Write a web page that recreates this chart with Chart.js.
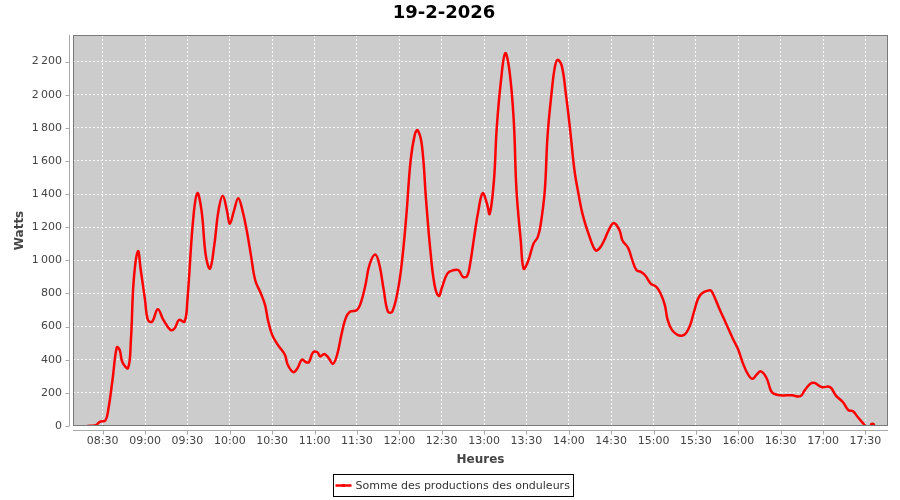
<!DOCTYPE html>
<html>
<head>
<meta charset="utf-8">
<script src="https://cdn.jsdelivr.net/npm/chart.js@4.4.1/dist/chart.umd.min.js"></script>
<style>
    html, body { margin: 0; padding: 0; background: #ffffff; }
    #wrap { width: 900px; height: 500px; }
</style>
</head>
<body>
<div id="wrap"><canvas id="production" width="900" height="500"></canvas></div>
<script>
// Data
const chartTitle = '19-2-2026';
const seriesName = 'Somme des productions des onduleurs';
const xAxisTitle = 'Heures';
const yAxisTitle = 'Watts';

const times = [
    '08:19', '08:25', '08:28', '08:32', '08:34', '08:37', '08:40', '08:42', '08:44', '08:48',
    '08:50', '08:52', '08:55', '08:57', '09:00', '09:02', '09:05', '09:09', '09:13', '09:18',
    '09:21', '09:24', '09:28', '09:30', '09:34', '09:37', '09:40', '09:43', '09:46', '09:49',
    '09:52', '09:55', '09:58', '10:00', '10:03', '10:06', '10:09', '10:12', '10:15', '10:18',
    '10:22', '10:25', '10:27', '10:30', '10:34', '10:39', '10:41', '10:45', '10:48', '10:51',
    '10:54', '10:56', '10:59', '11:02', '11:04', '11:07', '11:10', '11:13', '11:16', '11:19',
    '11:22', '11:25', '11:30', '11:33', '11:36', '11:39', '11:43', '11:46', '11:49', '11:52',
    '11:55', '11:59', '12:02', '12:05', '12:08', '12:11', '12:13', '12:16', '12:19', '12:22',
    '12:25', '12:28', '12:30', '12:34', '12:38', '12:42', '12:45', '12:48', '12:50', '12:53',
    '12:56', '12:59', '13:02', '13:04', '13:07', '13:09', '13:12', '13:15', '13:18', '13:21',
    '13:23', '13:26', '13:28', '13:31', '13:35', '13:38', '13:40', '13:43', '13:45', '13:48',
    '13:50', '13:52', '13:55', '13:58', '14:01', '14:04', '14:07', '14:10', '14:15', '14:19',
    '14:22', '14:25', '14:29', '14:32', '14:36', '14:38', '14:42', '14:45', '14:48', '14:51',
    '14:54', '14:58', '15:02', '15:05', '15:08', '15:10', '15:13', '15:17', '15:20', '15:23',
    '15:26', '15:29', '15:33', '15:40', '15:42', '15:47', '15:51', '15:56', '16:00', '16:03',
    '16:07', '16:10', '16:13', '16:16', '16:20', '16:23', '16:25', '16:30', '16:34', '16:38',
    '16:44', '16:47', '16:51', '16:54', '16:59', '17:05', '17:09', '17:14', '17:18', '17:21',
    '17:25', '17:30', '17:32', '17:35'
];

const watts = [
    0, 5, 25, 35, 100, 280, 475, 460, 385, 350,
    520, 880, 1055, 940, 760, 640, 630, 705, 640, 580,
    590, 640, 630, 760, 1240, 1405, 1300, 1030, 950, 1090,
    1300, 1390, 1300, 1220, 1300, 1375, 1300, 1180, 1030, 880,
    800, 730, 640, 550, 490, 430, 370, 325, 350, 400,
    385, 385, 445, 445, 420, 435, 410, 375, 430, 550,
    650, 690, 700, 750, 850, 975, 1035, 970, 820, 690,
    690, 820, 1000, 1270, 1600, 1760, 1785, 1695, 1360, 1060,
    850, 785, 830, 920, 940, 940, 900, 905, 970, 1140,
    1300, 1405, 1345, 1280, 1480, 1800, 2085, 2250, 2145, 1850,
    1420, 1120, 950, 990, 1100, 1140, 1210, 1420, 1755, 2025,
    2160, 2210, 2175, 2000, 1785, 1545, 1395, 1270, 1135, 1060,
    1075, 1120, 1195, 1225, 1180, 1120, 1075, 1000, 940, 930,
    910, 860, 840, 800, 730, 640, 580, 550, 545, 560,
    610, 700, 790, 820, 800, 700, 625, 530, 460, 385,
    310, 285, 310, 330, 290, 215, 195, 185, 185, 185,
    180, 215, 255, 260, 235, 235, 185, 145, 95, 90,
    50, 0, null, 5
];

const xTickLabels = [
    '08:30', '09:00', '09:30', '10:00', '10:30', '11:00', '11:30', '12:00', '12:30', '13:00',
    '13:30', '14:00', '14:30', '15:00', '15:30', '16:00', '16:30', '17:00', '17:30'
];
const yTickValues = [0, 200, 400, 600, 800, 1000, 1200, 1400, 1600, 1800, 2000, 2200];

const xRange = ['08:09', '17:46'];
const yRange = [0, 2360];

function toMinutes(t) {
    const parts = t.split(':');
    return parseInt(parts[0], 10) * 60 + parseInt(parts[1], 10);
}

function toClock(m) {
    const h = Math.floor(m / 60);
    const mm = m % 60;
    return String(h).padStart(2, '0') + ':' + String(mm).padStart(2, '0');
}

function groupThousands(v) {
    if (v < 1000) return String(v);
    const s = String(v);
    return s.slice(0, s.length - 3) + '\u2009' + s.slice(s.length - 3);
}

const points = times.map(function(t, i) {
    return { x: toMinutes(t), y: watts[i] };
});

const FONT = '"DejaVu Sans", "Liberation Sans", sans-serif';
const lastIndex = points.length - 1;

// Gray plot area, offset axis lines and the boxed legend
const plotFrame = {
    id: 'plotFrame',
    beforeDraw(chart) {
        const ctx = chart.ctx;
        const a = chart.chartArea;
        ctx.save();
        ctx.fillStyle = '#cccccc';
        ctx.fillRect(a.left, a.top, a.right - a.left, a.bottom - a.top);
        ctx.restore();
    },
    afterDraw(chart) {
        const ctx = chart.ctx;
        const a = chart.chartArea;
        const xs = chart.scales.x;
        const ys = chart.scales.y;
        ctx.save();

        ctx.strokeStyle = '#7a7a7a';
        ctx.lineWidth = 1;
        ctx.strokeRect(a.left + 0.5, a.top + 0.5, a.right - a.left - 1, a.bottom - a.top - 1);

        ctx.strokeStyle = '#a8a8a8';
        ctx.beginPath();
        const axX = a.left - 3.5;
        ctx.moveTo(axX, a.top);
        ctx.lineTo(axX, a.bottom);
        ys.ticks.forEach(function(t) {
            const y = Math.round(ys.getPixelForValue(t.value)) + 0.5;
            ctx.moveTo(axX - 4, y);
            ctx.lineTo(axX, y);
        });
        const axY = a.bottom + 4.5;
        ctx.moveTo(a.left, axY);
        ctx.lineTo(a.right, axY);
        xs.ticks.forEach(function(t) {
            const x = Math.round(xs.getPixelForValue(t.value)) + 0.5;
            ctx.moveTo(x, axY);
            ctx.lineTo(x, axY + 4);
        });
        ctx.stroke();

        // legend
        ctx.font = '11px ' + FONT;
        const tw = ctx.measureText(seriesName).width;
        const w = Math.round(tw + 26);
        const h = 22;
        const x0 = Math.round(chart.width / 2 + 3 - w / 2) + 0.5;
        const y0 = 474.5;
        ctx.strokeStyle = '#000000';
        ctx.strokeRect(x0, y0, w, h);
        ctx.strokeStyle = '#ff0000';
        ctx.lineWidth = 2.5;
        ctx.beginPath();
        ctx.moveTo(x0 + 2, y0 + 11);
        ctx.lineTo(x0 + 18, y0 + 11);
        ctx.stroke();
        ctx.fillStyle = '#ff0000';
        ctx.fillRect(x0 + 8.5, y0 + 9.5, 3, 3);
        ctx.fillStyle = '#333333';
        ctx.textBaseline = 'middle';
        ctx.textAlign = 'left';
        ctx.fillText(seriesName, x0 + 22, y0 + 11.5);

        ctx.restore();
    }
};

document.addEventListener('DOMContentLoaded', function() {
    const ctx = document.getElementById('production');

    new Chart(ctx, {
        type: 'line',
        data: {
            datasets: [{
                label: seriesName,
                data: points,
                borderColor: '#ff0000',
                backgroundColor: '#ff0000',
                borderWidth: 2.5,
                tension: 0.4,
                fill: false,
                spanGaps: false,
                pointRadius: function(c) { return c.dataIndex === lastIndex ? 1.5 : 0; },
                pointHoverRadius: 0
            }]
        },
        options: {
            responsive: false,
            animation: false,
            devicePixelRatio: 1,
            layout: {
                padding: { left: 0, right: 12, top: 0, bottom: 30 }
            },
            scales: {
                x: {
                    type: 'linear',
                    min: toMinutes(xRange[0]),
                    max: toMinutes(xRange[1]),
                    afterBuildTicks: function(scale) {
                        scale.ticks = xTickLabels.map(function(t) { return { value: toMinutes(t) }; });
                    },
                    afterFit: function(scale) { scale.height = 44; },
                    border: { display: false, dash: [2, 2] },
                    grid: {
                        color: 'rgba(255, 255, 255, 0.85)',
                        lineWidth: 1,
                        drawTicks: false
                    },
                    ticks: {
                        padding: 9,
                        maxRotation: 0,
                        autoSkip: false,
                        color: '#444444',
                        font: { family: FONT, size: 11 },
                        callback: function(v) { return toClock(v); }
                    },
                    title: {
                        display: true,
                        text: xAxisTitle,
                        color: '#444444',
                        font: { family: FONT, size: 12, weight: 'bold' },
                        padding: { top: 0, bottom: 3 }
                    }
                },
                y: {
                    min: yRange[0],
                    max: yRange[1],
                    afterBuildTicks: function(scale) {
                        scale.ticks = yTickValues.map(function(v) { return { value: v }; });
                    },
                    afterFit: function(scale) { scale.width = 73; },
                    border: { display: false, dash: [2, 2] },
                    grid: {
                        color: 'rgba(255, 255, 255, 0.85)',
                        lineWidth: 1,
                        drawTicks: false
                    },
                    ticks: {
                        padding: 11,
                        color: '#444444',
                        font: { family: FONT, size: 11 },
                        callback: function(v) { return groupThousands(v); }
                    },
                    title: {
                        display: true,
                        text: yAxisTitle,
                        color: '#444444',
                        font: { family: FONT, size: 12, weight: 'bold' },
                        padding: { top: 13, bottom: 0 }
                    }
                }
            },
            plugins: {
                legend: { display: false },
                tooltip: { enabled: false },
                title: {
                    display: true,
                    text: chartTitle,
                    color: '#000000',
                    font: { family: FONT, size: 18, weight: 'bold' },
                    padding: { top: 3, bottom: 10.4 }
                }
            }
        },
        plugins: [plotFrame]
    });
});
</script>
</body>
</html>
